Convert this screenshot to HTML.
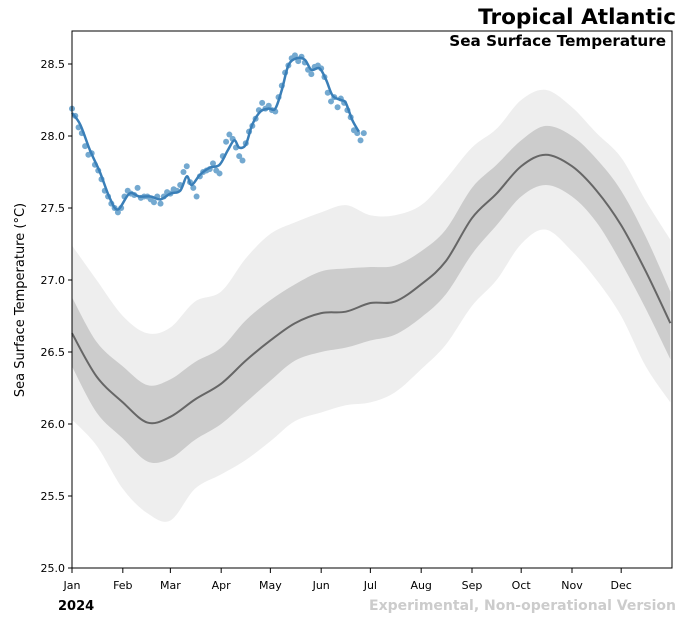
<!DOCTYPE html>
<html><head><meta charset="utf-8"><style>
html,body{margin:0;padding:0;background:#fff}
svg{display:block;font-family:"DejaVu Sans","Liberation Sans",sans-serif}
</style></head><body>
<svg id="chart" width="690" height="618" viewBox="0 0 690 618">
<text x="676" y="24" text-anchor="end" font-size="21.6" font-weight="bold">Tropical Atlantic</text>
<text x="666" y="46" text-anchor="end" font-size="15.2" font-weight="bold">Sea Surface Temperature</text>
<g id="plot"></g>
<text x="24" y="300" transform="rotate(-90 24 300)" text-anchor="middle" font-size="13">Sea Surface Temperature (<tspan font-style="italic">°</tspan>C)</text>
<text x="58" y="610" font-size="13" font-weight="bold">2024</text>
<text x="676" y="610" text-anchor="end" font-size="14" font-weight="bold" fill="#cccccc">Experimental, Non-operational Version</text>
</svg>
<script>
const climDays=[0,15,31,46,60,75,91,106,121,136,152,167,182,197,213,228,244,259,274,289,305,320,335,350,365];
const climMean=[26.63,26.33,26.15,26.01,26.05,26.17,26.28,26.44,26.58,26.70,26.77,26.78,26.84,26.85,26.97,27.13,27.43,27.60,27.79,27.87,27.79,27.62,27.38,27.06,26.70];
const darkUpper=[26.88,26.57,26.40,26.27,26.31,26.43,26.53,26.72,26.86,26.97,27.06,27.08,27.09,27.10,27.20,27.35,27.64,27.80,27.97,28.07,28.00,27.84,27.62,27.30,26.92];
const darkLower=[26.40,26.08,25.90,25.74,25.76,25.89,26.00,26.15,26.30,26.44,26.50,26.53,26.58,26.62,26.74,26.90,27.18,27.38,27.58,27.66,27.58,27.40,27.12,26.80,26.45];
const lightUpper=[27.24,27.00,26.75,26.63,26.67,26.85,26.92,27.15,27.32,27.40,27.47,27.52,27.45,27.45,27.52,27.70,27.92,28.05,28.25,28.32,28.20,28.02,27.85,27.55,27.28];
const lightLower=[26.03,25.85,25.55,25.38,25.33,25.55,25.65,25.75,25.88,26.02,26.08,26.13,26.15,26.22,26.38,26.55,26.82,27.00,27.25,27.35,27.20,27.00,26.75,26.40,26.15];
const obsDays=[0,5,11,17,23,28,35,41,48,54,60,66,70,73,78,84,90,95,99,102,106,110,115,120,124,128,132,137,142,146,151,155,159,164,167,171,175];
const obsVals=[28.16,28.08,27.90,27.75,27.57,27.49,27.60,27.58,27.58,27.56,27.60,27.62,27.72,27.66,27.73,27.78,27.80,27.90,27.97,27.92,27.94,28.08,28.17,28.19,28.19,28.32,28.49,28.54,28.53,28.46,28.47,28.39,28.28,28.25,28.23,28.11,28.03];
const dotDays=[0,2,4,6,8,10,12,14,16,18,20,22,24,26,28,30,32,34,36,38,40,42,44,46,48,50,52,54,56,58,60,62,64,66,68,70,72,74,76,78,80,82,84,86,88,90,92,94,96,98,100,102,104,106,108,110,112,114,116,118,120,122,124,126,128,130,132,134,136,138,140,142,144,146,148,150,152,154,156,158,160,162,164,166,168,170,172,174,176,178];
const dotVals=[28.19,28.14,28.06,28.02,27.93,27.87,27.88,27.80,27.76,27.70,27.62,27.58,27.53,27.50,27.47,27.50,27.58,27.62,27.60,27.59,27.64,27.57,27.58,27.58,27.56,27.54,27.58,27.53,27.58,27.61,27.60,27.63,27.62,27.66,27.75,27.79,27.68,27.64,27.58,27.72,27.75,27.76,27.77,27.81,27.76,27.74,27.86,27.96,28.01,27.98,27.92,27.86,27.83,27.95,28.03,28.07,28.12,28.18,28.23,28.19,28.21,28.18,28.17,28.27,28.35,28.44,28.49,28.54,28.56,28.52,28.55,28.51,28.46,28.43,28.48,28.49,28.47,28.41,28.30,28.24,28.27,28.20,28.26,28.23,28.18,28.13,28.04,28.02,27.97,28.02];
const yTicks=[25.0,25.5,26.0,26.5,27.0,27.5,28.0,28.5];
const monthLabels=['Jan','Feb','Mar','Apr','May','Jun','Jul','Aug','Sep','Oct','Nov','Dec'];
const monthDays=[0,31,60,91,121,152,182,213,244,274,305,335];

const X0=72,X1=672,Y0=31,Y1=568;
const xS=d=>X0+d*(X1-X0)/366;
const yS=v=>568-(v-25)*144;
const NS='http://www.w3.org/2000/svg';
const plot=document.getElementById('plot');
function mk(t,a){const e=document.createElementNS(NS,t);for(const k in a)e.setAttribute(k,a[k]);plot.appendChild(e);return e;}
function spline(pts,move){let s=move?'M'+pts[0][0]+','+pts[0][1]:'L'+pts[0][0]+','+pts[0][1];
for(let i=0;i<pts.length-1;i++){const p0=pts[Math.max(0,i-1)],p1=pts[i],p2=pts[i+1],p3=pts[Math.min(pts.length-1,i+2)];
const c1=[p1[0]+(p2[0]-p0[0])/6,p1[1]+(p2[1]-p0[1])/6],c2=[p2[0]-(p3[0]-p1[0])/6,p2[1]-(p3[1]-p1[1])/6];
s+=' C'+c1[0]+','+c1[1]+' '+c2[0]+','+c2[1]+' '+p2[0]+','+p2[1];}return s;}
function bandPath(up,lo){const a=climDays.map((d,i)=>[xS(d),yS(up[i])]);const b=climDays.map((d,i)=>[xS(d),yS(lo[i])]).reverse();return spline(a,true)+' '+spline(b,false)+' Z';}
let e=mk('path',{d:bandPath(lightUpper,lightLower),fill:'#eeeeee'});


e=mk('path',{d:bandPath(darkUpper,darkLower),fill:'#cccccc'});


e=mk('path',{d:spline(climDays.map((d,i)=>[xS(d),yS(climMean[i])]),true),fill:'none',stroke:'#666666','stroke-width':2});


dotDays.forEach((d,i)=>{const c=mk('circle',{cx:xS(d),cy:yS(dotVals[i]),r:3,fill:'#74a9d0'});

});
e=mk('path',{d:spline(obsDays.map((d,i)=>[xS(d),yS(obsVals[i])]),true),fill:'none',stroke:'#3a7fb8','stroke-width':2.5});


e=mk('rect',{x:X0,y:Y0,width:X1-X0,height:Y1-Y0,fill:'none',stroke:'#000','stroke-width':1});


yTicks.forEach(v=>{const y=yS(v);
const l=mk('line',{x1:X0-4,x2:X0,y1:y,y2:y,stroke:'#000'});


const t=mk('text',{x:X0-7,y:y+4,'text-anchor':'end','font-size':11});t.textContent=v.toFixed(1);

});
monthDays.forEach((d,i)=>{const x=xS(d);
const l=mk('line',{x1:x,x2:x,y1:Y1,y2:Y1+5,stroke:'#000'});


const t=mk('text',{x:x,y:Y1+21,'text-anchor':'middle','font-size':11});t.textContent=monthLabels[i];

});
</script>
</body></html>
